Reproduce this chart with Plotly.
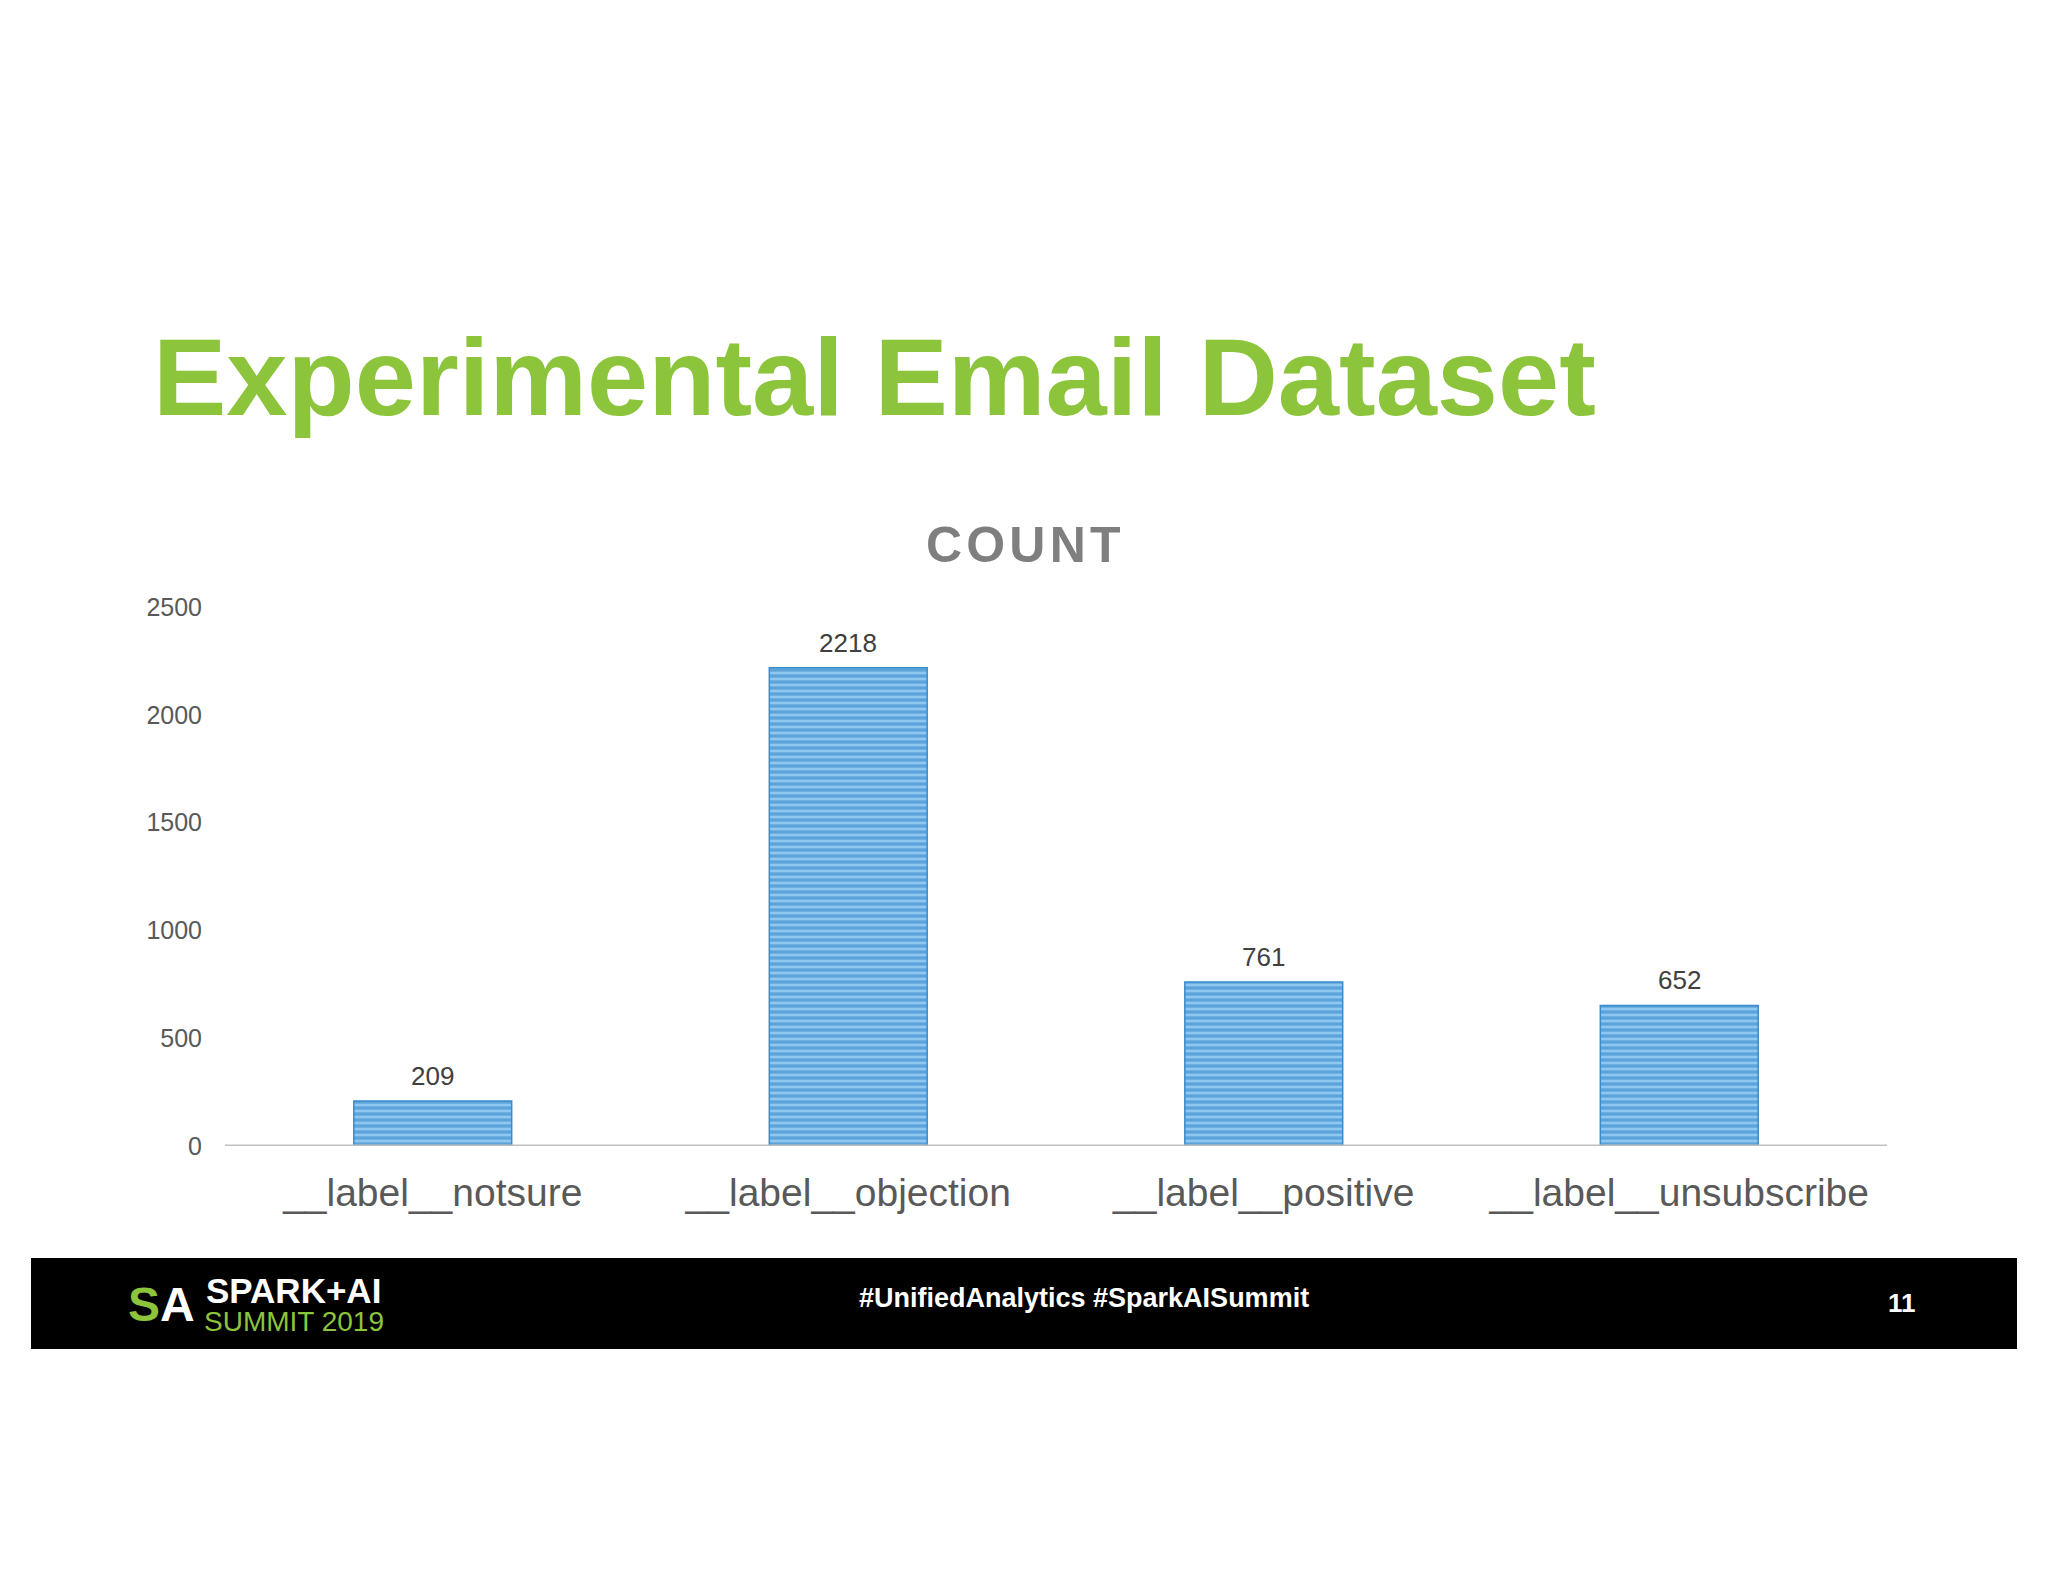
import plotly.graph_objects as go

categories = ["__label__notsure", "__label__objection", "__label__positive", "__label__unsubscribe"]
counts = [209, 2218, 761, 652]
y_ticks = [0, 500, 1000, 1500, 2000, 2500]

FONT = "Liberation Sans, Arial, sans-serif"
GREEN = "#8cc43c"

# page has an 8px body margin; work in page pixels and convert
OFF = 8
W, H = 2048 - OFF, 1582 - OFF
# plot area in page pixels
PL, PR, PT, PB = 225, 1887, 607, 1146
ml, mr, mt, mb = PL - OFF, (W + OFF) - PR, PT - OFF, (H + OFF) - PB
pw, ph = PR - PL, PB - PT

fig = go.Figure()
fig.add_trace(go.Bar(
    x=categories,
    y=counts,
    marker=dict(
        color="#7fbbe9",
        line=dict(color="#3a8bcd", width=1.5),
        pattern=dict(shape="-", fgcolor="#2a80c4", bgcolor="#8ec7f0", size=6, solidity=0.55),
    ),
    hoverinfo="skip",
))

annotations = []
for c, v in zip(categories, counts):
    annotations.append(dict(x=c, y=v, xref="x", yref="y", text=str(v), showarrow=False,
                            yanchor="bottom", yshift=8,
                            font=dict(family=FONT, size=26, color="#404040")))

page_texts = [
    dict(x=151, y=376, text="<b>Experimental Email Dataset</b>", xanchor="left",
         font=dict(family=FONT, size=110, color=GREEN)),
    dict(x=1023, y=545, text="<b>C\u200aO\u200aU\u200aN\u200aT</b>", xanchor="center",
         font=dict(family=FONT, size=50, color="#7f7f7f")),
    dict(x=1084, y=1298, text="<b>#UnifiedAnalytics #SparkAISummit</b>", xanchor="center",
         font=dict(family=FONT, size=27, color="white")),
    dict(x=1902, y=1303, text="<b>11</b>", xanchor="center",
         font=dict(family=FONT, size=26, color="white")),
    dict(x=204, y=1290, text="<b>SPARK+AI</b>", xanchor="left",
         font=dict(family=FONT, size=35, color="white")),
    dict(x=202, y=1321, text="SUMMIT 2019", xanchor="left",
         font=dict(family=FONT, size=28, color=GREEN)),
    dict(x=161, y=1304, text="<b><span style='color:%s'>S</span>A</b>" % GREEN, xanchor="center",
         font=dict(family=FONT, size=48, color="white")),
]
for a in page_texts:
    a.update(xref="paper", yref="paper", showarrow=False, yanchor="middle",
             x=(a["x"] - PL) / pw, y=(PB - a["y"]) / ph)
    annotations.append(a)

def px2paper(x0, y0, x1, y1):
    return dict(x0=(x0 - PL) / pw, x1=(x1 - PL) / pw,
                y0=(PB - y0) / ph, y1=(PB - y1) / ph)

shapes = [
    dict(type="rect", xref="paper", yref="paper", fillcolor="black", line=dict(width=0),
         layer="below", **px2paper(31, 1258, 2017, 1349)),
    dict(type="line", xref="paper", yref="y", x0=0, x1=1, y0=0, y1=0,
         line=dict(color="#bfbfbf", width=3)),
]

fig.update_layout(
    width=W, height=H,
    margin=dict(l=ml, r=mr, t=mt, b=mb, pad=0),
    paper_bgcolor="white", plot_bgcolor="white",
    showlegend=False,
    bargap=0.62,
    annotations=annotations,
    shapes=shapes,
    xaxis=dict(showgrid=False, showline=False, zeroline=False, ticks="",
               tickfont=dict(family=FONT, size=39, color="#595959"),
               ticklabelstandoff=20),
    yaxis=dict(range=[0, 2500], tickvals=y_ticks, showgrid=False, showline=False,
               zeroline=False, ticks="",
               tickfont=dict(family=FONT, size=25, color="#595959"),
               ticklabelstandoff=22),
)

fig.write_html("out.html")
